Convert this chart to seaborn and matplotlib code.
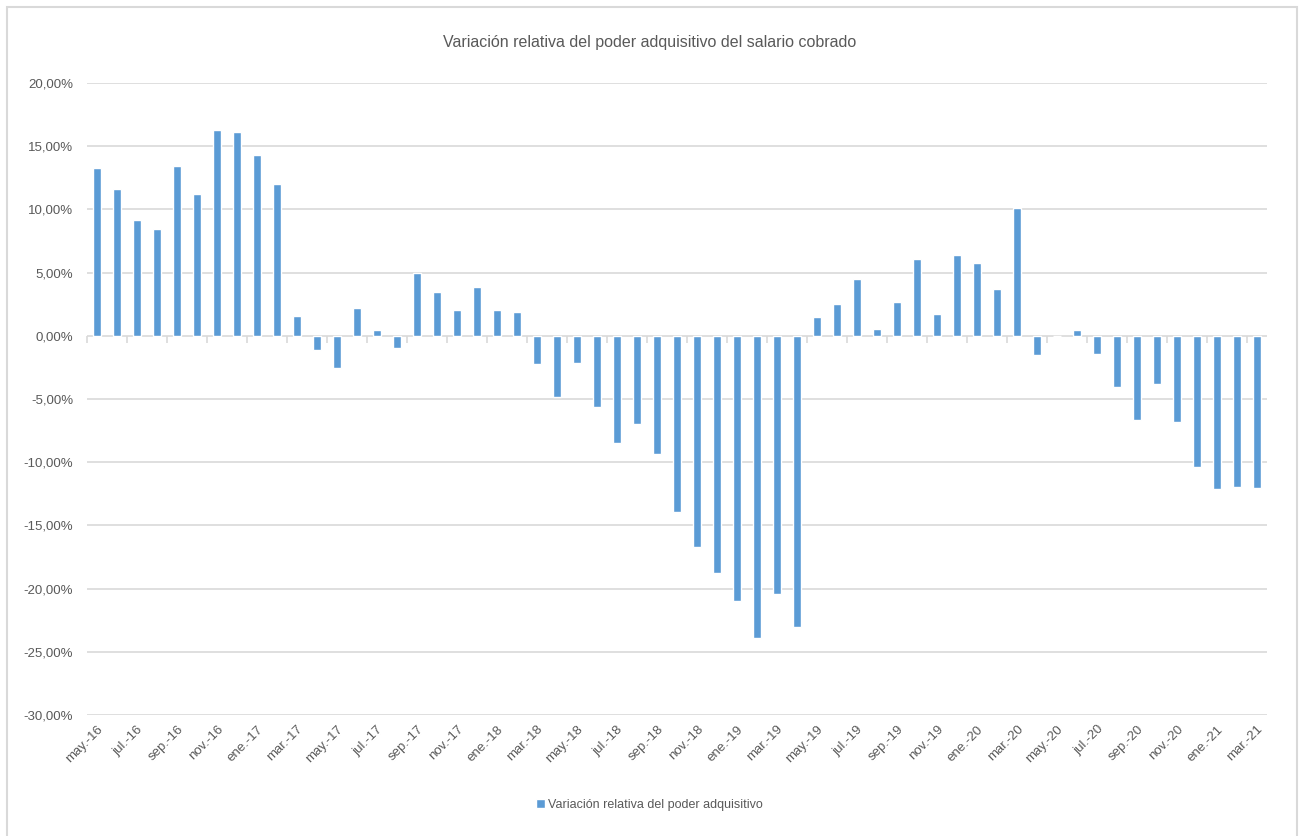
import numpy as np
import pandas as pd
import matplotlib
matplotlib.use("Agg")
import matplotlib.pyplot as plt
from matplotlib.patches import Rectangle
from matplotlib.ticker import FuncFormatter
import seaborn as sns

# data (monthly, may-16 .. mar-21), in %
start_year = 16
n_months = 59
month_cycle = ['may', 'jun', 'jul', 'ago', 'sep', 'oct', 'nov', 'dic',
               'ene', 'feb', 'mar', 'abr']

values = [13.24, 11.60, 9.16, 8.45, 13.42, 11.18, 16.29, 16.16, 14.34, 12.00,
          1.58, -1.10, -2.53, 2.16, 0.42, -0.97, 5.00, 3.45, 2.03, 3.90,
          2.05, 1.87, -2.26, -4.84, -2.15, -5.60, -8.45, -7.00, -9.35, -13.95,
          -16.70, -18.80, -21.00, -23.94, -20.40, -23.00, 1.47, 2.50, 4.50, 0.55,
          2.70, 6.10, 1.74, 6.42, 5.76, 3.68, 10.10, -1.53, 0.00, 0.42,
          -1.47, -4.08, -6.68, -3.79, -6.79, -10.37, -12.10, -11.95, -12.05]

title = "Variación relativa del poder adquisitivo del salario cobrado"
series_name = "Variación relativa del poder adquisitivo"

# build labels like "may.-16"
labels = []
year = start_year
for i in range(n_months):
    m = month_cycle[i % 12]
    if m == 'ene' and i > 0:
        year += 1
    labels.append(f"{m}.-{year}")

df = pd.DataFrame({'Mes': labels, 'Valor': values})

################################################################################
# style
################################################################################
sns.set_style("white")
plt.rcParams['font.family'] = ['Liberation Sans Narrow', 'Liberation Sans', 'DejaVu Sans']
text_color = '#595959'
grid_color = '#D9D9D9'
bar_color = '#5B9BD5'

fig = plt.figure(figsize=(12.99, 8.36), dpi=100)
ax = fig.add_axes([87 / 1299, 1 - 715 / 836, 1180 / 1299, 632 / 836])

sns.barplot(data=df, x='Mes', y='Valor', color=bar_color, width=0.42,
            saturation=1, ax=ax, label=series_name)
handles, lbls = ax.get_legend_handles_labels()
if ax.get_legend() is not None:
    ax.get_legend().remove()

ax.set_ylim(-30, 20)
ax.set_xlim(-0.5, n_months - 0.5)
ax.set_yticks(np.arange(-30, 20.1, 5))
ax.yaxis.set_major_formatter(FuncFormatter(lambda v, p: f"{v:.2f}%".replace('.', ',')))
ax.yaxis.grid(True, color=grid_color, linewidth=1.2)
ax.set_axisbelow(True)
for s in ax.spines.values():
    s.set_visible(False)

ax.set_xlabel('')
ax.set_ylabel('')
ax.set_xticks(range(0, n_months, 2))
ax.set_xticklabels(labels[::2], rotation=45, ha='right', rotation_mode='anchor')
ax.tick_params(axis='x', length=0, pad=6, labelsize=9.5, labelcolor=text_color)
ax.tick_params(axis='y', length=0, pad=10, labelsize=9.5, labelcolor=text_color)

# horizontal category axis crossing at zero, with tick marks between categories
zero_pos = (0 - (-30)) / 50
sec = ax.secondary_xaxis(zero_pos)
sec.set_xticks(np.arange(-0.5, n_months, 2))
sec.set_xticklabels([])
sec.tick_params(axis='x', direction='in', length=5, width=1.2, color=grid_color)
sec.spines['bottom'].set_color(grid_color)
sec.spines['bottom'].set_linewidth(1.2)
sec.spines['top'].set_visible(False)

fig.text(0.5, 1 - 42 / 836, title, ha='center', va='center',
         fontsize=11.5, color=text_color)

fig.legend(handles[:1], [series_name], loc='center', bbox_to_anchor=(0.5, 1 - 805 / 836),
           frameon=False, fontsize=9, labelcolor=text_color,
           handlelength=0.7, handleheight=0.7, handletextpad=0.3)

# light chart border
fig.patches.append(Rectangle((7 / 1299, -0.05), 1290 / 1299, 1.05 - 7 / 836,
                             transform=fig.transFigure, fill=False,
                             edgecolor=grid_color, linewidth=1.5))

plt.savefig('out.png', dpi=100)
